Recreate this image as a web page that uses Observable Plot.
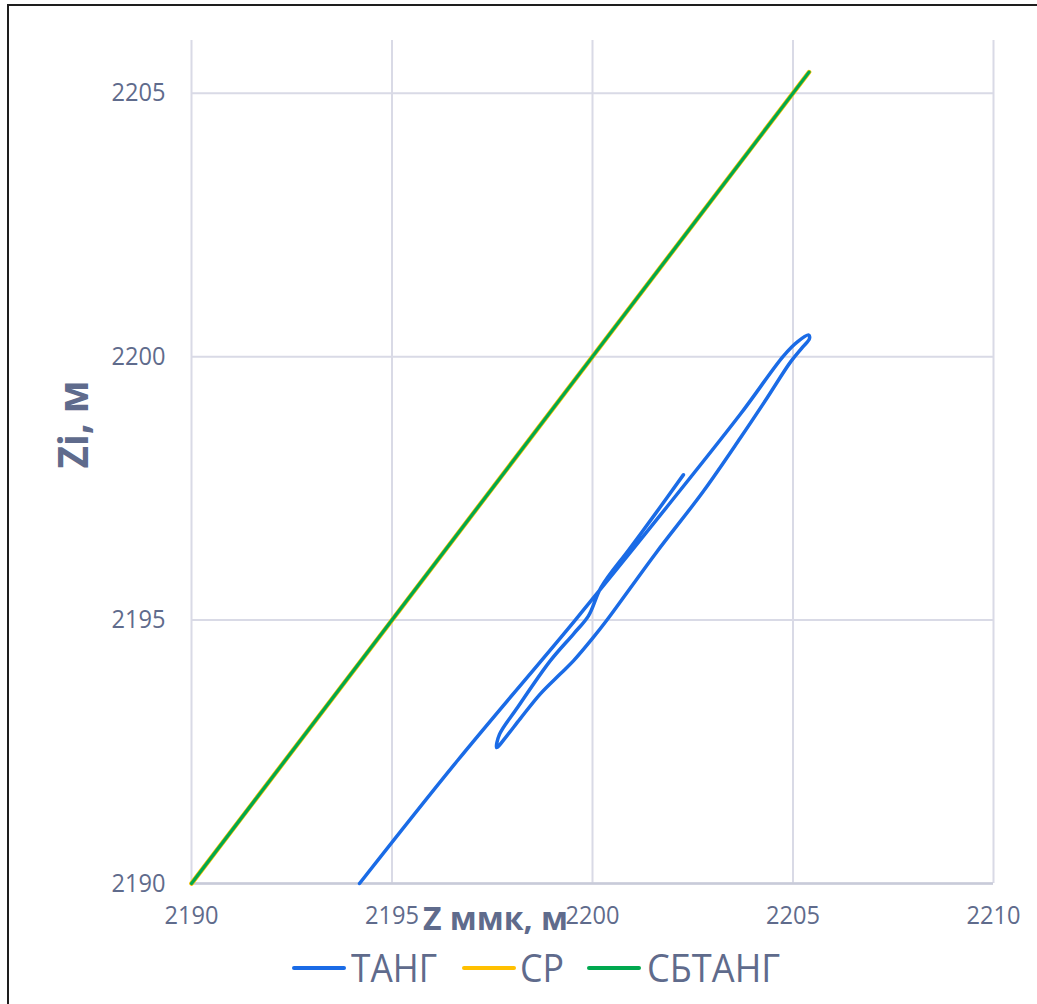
<!DOCTYPE html>
<html><head><meta charset="utf-8">
<script src="https://cdn.jsdelivr.net/npm/d3@7"></script>
<script src="https://cdn.jsdelivr.net/npm/@observablehq/plot@0.6"></script>
<style>
body{margin:0;background:#fff;width:1037px;height:1004px;overflow:hidden;position:relative;font-family:"Open Sans",sans-serif}
#frame{position:absolute;left:7px;top:4px;width:1100px;height:1100px;border:2px solid #1e1e1e;pointer-events:none}
#chart{position:absolute;left:0;top:0}
#legend{position:absolute;left:0;top:945px;width:1037px;height:59px}
.sw{position:absolute;height:4px;border-radius:2px}
.lt{position:absolute;font-family:"Open Sans",sans-serif;font-size:38px;line-height:38px;white-space:nowrap;transform-origin:0 50%}
</style></head><body>
<div id="chart"></div><div id="legend"></div><div id="frame"></div>
<script>
// ТАНГ series (Z ммк, Zi) in path order
const tangZ  = [2194.19, 2196.63, 2199.58, 2201.70, 2203.69, 2204.76, 2205.11, 2205.39, 2205.41, 2205.24, 2204.94, 2204.34, 2203.69, 2202.77, 2201.57, 2200.37, 2200.02, 2199.53, 2199.20, 2198.70, 2198.20, 2197.83, 2197.61, 2197.68, 2198.13, 2198.95, 2199.53, 2199.90, 2200.22, 2200.92, 2201.57, 2202.27];
const tangZi = [2190.00, 2192.33, 2195.01, 2197.00, 2198.91, 2200.01, 2200.28, 2200.41, 2200.34, 2200.18, 2199.90, 2199.20, 2198.46, 2197.45, 2196.26, 2195.01, 2194.67, 2194.23, 2193.98, 2193.60, 2193.13, 2192.77, 2192.58, 2192.83, 2193.34, 2194.23, 2194.74, 2195.08, 2195.63, 2196.35, 2197.02, 2197.76];
// СР and СБТАНГ series
const refZ     = [2190, 2195, 2200, 2205.4];
const crZi     = [2190, 2195, 2200, 2205.4];
const sbtangZi = [2190, 2195, 2200, 2205.4];

const xTicks = [2190, 2195, 2200, 2205, 2210];
const yTicks = [2190, 2195, 2200, 2205];
const seriesNames  = ["ТАНГ", "СР", "СБТАНГ"];
const seriesColors = ["#1a6be6", "#ffc000", "#00a84f"];
const xTitle = "Z ммк, м";
const yTitle = "Zi, м";

const textColor = "#5f6b8c";
const gridColor = "#d9dae6";

const tang   = tangZ.map((z, i) => ({z, zi: tangZi[i]}));
const cr     = refZ.map((z, i) => ({z, zi: crZi[i]}));
const sbtang = refZ.map((z, i) => ({z, zi: sbtangZi[i]}));

const chart = Plot.plot({
  width: 1037, height: 945,
  marginLeft: 191, marginRight: 44, marginTop: 40, marginBottom: 62,
  x: {domain: [2190, 2210]},
  y: {domain: [2190, 2206]},
  style: {fontFamily: "'Open Sans', sans-serif", fontSize: "25px", color: textColor, background: "transparent", overflow: "visible"},
  marks: [
    Plot.ruleX(xTicks, {x: d => d, y1: 2190, y2: 2206, stroke: gridColor, strokeWidth: 2}),
    Plot.ruleY(yTicks, {y: d => d, x1: 2190, x2: 2210, stroke: gridColor, strokeWidth: 2}),
    Plot.ruleY([2190], {x1: 2190, x2: 2210, stroke: "#c8cbd9", strokeWidth: 2.5}),
    Plot.axisX({ticks: xTicks, tickSize: 0, tickPadding: 23, label: null, fill: textColor, tickFormat: d => String(d)}),
    Plot.axisY({ticks: yTicks, tickSize: 0, tickPadding: 26, label: null, fill: textColor, tickFormat: d => String(d)}),
    Plot.line(tang,   {x: "z", y: "zi", stroke: seriesColors[0], strokeWidth: 3.5, curve: "catmull-rom", strokeLinejoin: "round", strokeLinecap: "round"}),
    Plot.line(cr,     {x: "z", y: "zi", stroke: seriesColors[1], strokeWidth: 4.6, strokeLinecap: "round"}),
    Plot.line(sbtang, {x: "z", y: "zi", stroke: seriesColors[2], strokeWidth: 3.2, strokeLinecap: "round"}),
    Plot.text([xTitle], {frameAnchor: "bottom", text: d => d, dx: -97, dy: 46, fontSize: 33, fontWeight: "bold", fill: textColor}),
    Plot.text([yTitle], {frameAnchor: "left", text: d => d, dx: -117, dy: 6.5, rotate: -90, textAnchor: "start", fontSize: 42, fontWeight: "bold", fill: textColor})
  ]
});
document.getElementById("chart").appendChild(chart);

// slightly condensed tick labels, as in the reference
d3.select(chart).selectAll("g[aria-label='x-axis tick label'] text, g[aria-label='y-axis tick label'] text")
  .attr("textLength", 54).attr("lengthAdjust", "spacingAndGlyphs");
d3.select(chart).selectAll("g[aria-label='text'] text").each(function() {
  const t = d3.select(this);
  const s = t.text();
  if (s === xTitle) t.attr("textLength", 145).attr("lengthAdjust", "spacingAndGlyphs");
  if (s === yTitle) t.attr("textLength", 88).attr("lengthAdjust", "spacingAndGlyphs");
});

// legend below the chart (HTML)
const legendLayout = [
  {x0: 292, x1: 346, tx: 351, tw: 86},
  {x0: 462, x1: 516, tx: 520, tw: 44},
  {x0: 587, x1: 641, tx: 647, tw: 133}
];
const leg = d3.select("#legend");
seriesNames.forEach((name, i) => {
  const L = legendLayout[i];
  leg.append("div").attr("class", "sw")
    .style("left", L.x0 + "px").style("top", "21px").style("width", (L.x1 - L.x0) + "px")
    .style("background", seriesColors[i]);
  const sp = leg.append("div").attr("class", "lt").text(name)
    .style("left", L.tx + "px").style("top", "3px").style("color", textColor);
  const w = sp.node().getBoundingClientRect().width;
  if (w > 0) sp.style("transform", `scaleX(${(L.tw / w).toFixed(3)})`);
});
</script>
</body></html>
